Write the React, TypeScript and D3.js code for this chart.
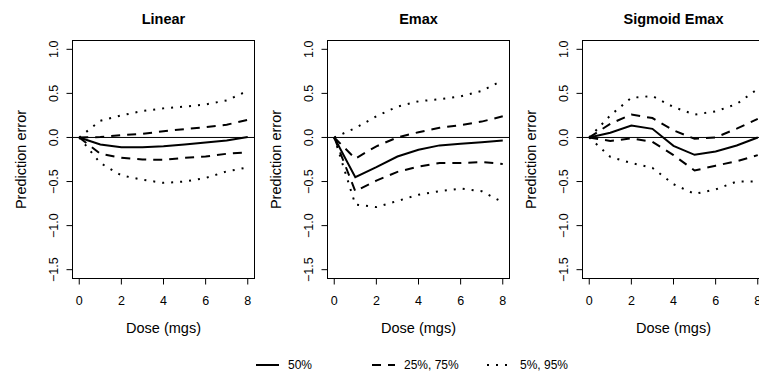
import React from "react";
import * as d3 from "d3";

const doses = [0, 1, 2, 3, 4, 5, 6, 7, 8];
const panelTitles = ["Linear", "Emax", "Sigmoid Emax"];
const xTicks = [0, 2, 4, 6, 8];
const yTicks = [-1.5, -1.0, -0.5, 0.0, 0.5, 1.0];
const yTickLabels = ["\u22121.5", "\u22121.0", "\u22120.5", "0.0", "0.5", "1.0"];

const linear50 = [0, -0.08, -0.11, -0.11, -0.1, -0.08, -0.057, -0.034, 0.005];
const linear25 = [0, -0.185, -0.23, -0.25, -0.254, -0.23, -0.216, -0.185, -0.167];
const linear75 = [0, 0.005, 0.027, 0.04, 0.07, 0.095, 0.117, 0.144, 0.2];
const linear5 = [0, -0.29, -0.43, -0.48, -0.515, -0.5, -0.46, -0.385, -0.34];
const linear95 = [0, 0.19, 0.25, 0.3, 0.33, 0.35, 0.375, 0.42, 0.53];

const emax50 = [0, -0.45, -0.337, -0.216, -0.14, -0.09, -0.072, -0.053, -0.034];
const emax25 = [0, -0.61, -0.49, -0.39, -0.33, -0.29, -0.29, -0.28, -0.3];
const emax75 = [0, -0.24, -0.1, 0.0, 0.06, 0.11, 0.14, 0.18, 0.24];
const emax5 = [0, -0.76, -0.79, -0.72, -0.65, -0.61, -0.58, -0.61, -0.735];
const emax95 = [0, 0.106, 0.24, 0.35, 0.41, 0.435, 0.466, 0.527, 0.65];

const sig50 = [0, 0.053, 0.136, 0.098, -0.095, -0.197, -0.159, -0.091, 0.0];
const sig25 = [0, -0.04, -0.01, -0.05, -0.2, -0.375, -0.32, -0.27, -0.2];
const sig75 = [0, 0.155, 0.26, 0.22, 0.08, -0.015, 0.0, 0.1, 0.21];
const sig5 = [0, -0.22, -0.29, -0.345, -0.53, -0.64, -0.59, -0.5, -0.5];
const sig95 = [0, 0.25, 0.45, 0.47, 0.345, 0.26, 0.295, 0.38, 0.55];

const legendLabels = ["50%", "25%, 75%", "5%, 95%"];

const panelSeries = [
  [linear50, linear25, linear75, linear5, linear95],
  [emax50, emax25, emax75, emax5, emax95],
  [sig50, sig25, sig75, sig5, sig95],
];
// style index per series: 0 solid, 1 dashed, 2 dotted
const seriesStyle = [0, 1, 1, 2, 2];
const dashes = [undefined, "9,7", "2,7"];

const FONT = "'Liberation Sans', Arial, Helvetica, sans-serif";
const W = 759;
const H = 374;
const panelLefts = [72.5, 327.5, 582.5];
const panelW = 182;
const top = 40.5;
const bottom = 278.5;

function Panel({ idx }: { idx: number }) {
  const left = panelLefts[idx];
  const right = left + panelW;
  const x = d3.scaleLinear().domain([-0.32, 8.32]).range([left, right]);
  const y = d3.scaleLinear().domain([-1.6, 1.1]).range([bottom, top]);
  const line = d3
    .line<number>()
    .x((_, i) => x(doses[i]))
    .y((v) => y(v));
  const cx = (left + right) / 2;
  const cy = (top + bottom) / 2;
  return (
    <g>
      <text x={cx} y={24} textAnchor="middle" fontFamily={FONT} fontSize={14.5} fontWeight="bold">
        {panelTitles[idx]}
      </text>
      <clipPath id={`clip${idx}`}>
        <rect x={left} y={top} width={panelW} height={bottom - top} />
      </clipPath>
      <g clipPath={`url(#clip${idx})`}>
        <line x1={left} x2={right} y1={y(0)} y2={y(0)} stroke="#000" strokeWidth={1} />
        {panelSeries[idx].map((s, k) => (
          <path
            key={k}
            d={line(s) || ""}
            fill="none"
            stroke="#000"
            strokeWidth={2}
            strokeDasharray={dashes[seriesStyle[k]]}
          />
        ))}
      </g>
      <rect x={left} y={top} width={panelW} height={bottom - top} fill="none" stroke="#000" strokeWidth={1} />
      {/* x axis */}
      <line x1={x(0)} x2={x(8)} y1={bottom} y2={bottom} stroke="#000" />
      {xTicks.map((t) => (
        <g key={t}>
          <line x1={x(t)} x2={x(t)} y1={bottom} y2={bottom + 6} stroke="#000" />
          <text x={x(t)} y={305} textAnchor="middle" fontFamily={FONT} fontSize={12.5}>
            {t}
          </text>
        </g>
      ))}
      <text x={cx} y={333} textAnchor="middle" fontFamily={FONT} fontSize={14.5}>
        Dose (mgs)
      </text>
      {/* y axis */}
      <line x1={left} x2={left} y1={y(-1.5)} y2={y(1)} stroke="#000" />
      {yTicks.map((t, i) => (
        <g key={t}>
          <line x1={left - 6} x2={left} y1={y(t)} y2={y(t)} stroke="#000" />
          <text
            transform={`translate(${left - 19},${y(t)}) rotate(-90)`}
            dy="0.35em"
            textAnchor="middle"
            fontFamily={FONT}
            fontSize={12.5}
          >
            {yTickLabels[i]}
          </text>
        </g>
      ))}
      <text
        transform={`translate(${left - 52},${cy}) rotate(-90)`}
        dy="0.35em"
        textAnchor="middle"
        fontFamily={FONT}
        fontSize={14.5}
      >
        Prediction error
      </text>
    </g>
  );
}

export default function App() {
  const legendX = [256, 372, 487];
  const legendTextX = [288, 404, 520];
  const ly = 365;
  return (
    <svg
      width={W}
      height={H}
      style={{ position: "absolute", left: 0, top: 0, background: "#fff" }}
    >
      <rect width={W} height={H} fill="#fff" />
      {[0, 1, 2].map((i) => (
        <Panel key={i} idx={i} />
      ))}
      {legendLabels.map((lab, i) => (
        <g key={lab}>
          <line
            x1={legendX[i]}
            x2={legendX[i] + 23}
            y1={ly}
            y2={ly}
            stroke="#000"
            strokeWidth={2}
            strokeDasharray={dashes[i]}
          />
          <text x={legendTextX[i]} y={ly} dy="0.35em" fontFamily={FONT} fontSize={12}>
            {lab}
          </text>
        </g>
      ))}
    </svg>
  );
}
